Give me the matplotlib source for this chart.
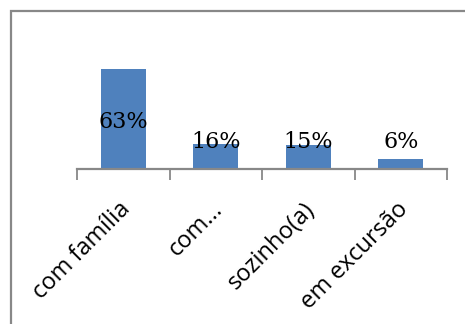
import matplotlib.pyplot as plt
from matplotlib.patches import Rectangle
from matplotlib.transforms import ScaledTranslation

# data
categories = ['com família', 'com...', 'sozinho(a)', 'em excursão']
values = [63, 16, 15, 6]
value_labels = ['63%', '16%', '15%', '6%']

fig = plt.figure(figsize=(4.65, 3.24), dpi=100)

# outer chart border (runs off the right and bottom edges)
fig.patches.append(Rectangle((10.5 / 465, -0.1), 1.2, (324 - 11.5) / 324 + 0.1,
                             transform=fig.transFigure, fill=False,
                             edgecolor='#888888', linewidth=1.6))

ax = fig.add_axes([77 / 465, 155 / 324, 370 / 465, 111 / 324])
x = list(range(len(categories)))
ax.bar(x, values, width=0.49, color='#4F81BD')
ax.set_xlim(-0.5, len(categories) - 0.5)
ax.set_ylim(0, 70)

for xi, v, lab in zip(x, values, value_labels):
    ax.text(xi, max(v / 2 - 2, 17), lab, ha='center', va='center',
            fontsize=16, family='DejaVu Serif', color='black')

for s in ['top', 'right', 'left']:
    ax.spines[s].set_visible(False)
ax.spines['bottom'].set_color('#888888')
ax.spines['bottom'].set_linewidth(1.6)
ax.set_yticks([])

# ticks between categories
ax.set_xticks([i - 0.5 for i in range(len(categories) + 1)], minor=False)
ax.set_xticklabels([])
ax.tick_params(axis='x', direction='out', length=8, width=1.3, color='#888888')
ax.set_xticks(x, minor=True)
ax.set_xticklabels(categories, minor=True, rotation=45, ha='right',
                   rotation_mode='anchor', fontsize=17, family='Open Sans')
ax.tick_params(axis='x', which='minor', length=0, pad=19)
shift = ScaledTranslation(-5 / 100, -2 / 100, fig.dpi_scale_trans)
for lbl in ax.get_xticklabels(minor=True):
    lbl.set_transform(lbl.get_transform() + shift)

fig.savefig('out.png', dpi=100)
